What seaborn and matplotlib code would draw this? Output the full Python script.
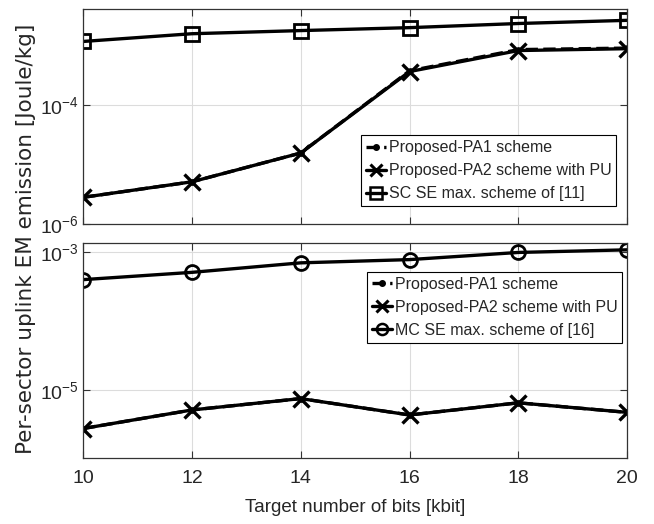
import numpy as np
import pandas as pd
import matplotlib
matplotlib.use("Agg")
import matplotlib.pyplot as plt
import seaborn as sns
from matplotlib.ticker import FixedLocator, LogFormatterMathtext, NullLocator
from matplotlib.lines import Line2D

# ---- data ----
bits = [10, 12, 14, 16, 18, 20]
top_pa1 = [2.8e-6, 5.1e-6, 1.55e-5, 3.7e-4, 8.4e-4, 8.9e-4]
top_pa2 = [2.8e-6, 5.1e-6, 1.55e-5, 3.6e-4, 8.1e-4, 8.7e-4]
top_sc = [1.15e-3, 1.55e-3, 1.75e-3, 1.96e-3, 2.3e-3, 2.6e-3]
bot_pa1 = [2.8e-6, 5.2e-6, 7.6e-6, 4.4e-6, 6.6e-6, 4.8e-6]
bot_pa2 = [2.8e-6, 5.2e-6, 7.6e-6, 4.4e-6, 6.6e-6, 4.8e-6]
bot_mc = [4.0e-4, 5.1e-4, 7.0e-4, 7.8e-4, 9.9e-4, 1.08e-3]

lab_pa1 = "Proposed-PA1 scheme"
lab_pa2 = "Proposed-PA2 scheme with PU"
lab_sc = "SC SE max. scheme of [11]"
lab_mc = "MC SE max. scheme of [16]"

sns.set_style("ticks")
plt.rcParams["font.family"] = ["Liberation Sans", "DejaVu Sans"]
plt.rcParams["mathtext.fontset"] = "custom"
plt.rcParams["mathtext.rm"] = "Liberation Sans"
plt.rcParams["mathtext.it"] = "Liberation Sans"
plt.rcParams["mathtext.bf"] = "Liberation Sans"

fig = plt.figure(figsize=(6.54, 5.24), dpi=100)
ax1 = fig.add_axes([0.127, 0.5725, 0.832, 0.410])
ax2 = fig.add_axes([0.127, 0.126, 0.832, 0.410])

lw = 2.4
def draw(ax, pa1, pa2, ref, ref_marker):
    df = pd.DataFrame({"bits": bits, "pa1": pa1, "pa2": pa2, "ref": ref})
    sns.lineplot(data=df, x="bits", y="pa1", ax=ax, color="black", lw=lw,
                 linestyle="--", marker="o", markersize=4, markeredgecolor="black")
    sns.lineplot(data=df, x="bits", y="pa2", ax=ax, color="black", lw=lw,
                 marker="x", markersize=11, markeredgewidth=2.4, markeredgecolor="black")
    sns.lineplot(data=df, x="bits", y="ref", ax=ax, color="black", lw=lw,
                 marker=ref_marker, markersize=10, markerfacecolor="none",
                 markeredgewidth=2.0, markeredgecolor="black")
    ax.set_yscale("log")
    ax.set_xlim(10, 20)
    ax.set_xticks(bits)
    ax.grid(True, color="#dcdcdc", lw=0.8)
    ax.set_axisbelow(True)
    ax.tick_params(direction="in", top=True, right=True, labelsize=14, length=5,
                   color="#333333", labelcolor="#262626")
    ax.tick_params(axis="x", pad=9)
    ax.tick_params(axis="y", pad=3)
    ax.yaxis.set_minor_locator(NullLocator())
    ax.yaxis.set_major_formatter(LogFormatterMathtext())
    for s in ax.spines.values():
        s.set_color("#333333")
        s.set_linewidth(0.9)
    ax.set_xlabel("")
    ax.set_ylabel("")
    handles = [
        Line2D([], [], color="black", lw=lw, linestyle="--", marker="o", markersize=4),
        Line2D([], [], color="black", lw=lw, marker="x", markersize=9, markeredgewidth=2.2),
        Line2D([], [], color="black", lw=lw, marker=ref_marker, markersize=8,
               markerfacecolor="none", markeredgewidth=1.8),
    ]
    return handles

legkw = dict(fontsize=11.5, handlelength=1.3, handletextpad=0.15, borderpad=0.3,
             labelspacing=0.5, fancybox=False, edgecolor="black", framealpha=1,
             borderaxespad=0)

h1 = draw(ax1, top_pa1, top_pa2, top_sc, "s")
ax1.set_ylim(1e-6, 4e-3)
ax1.yaxis.set_major_locator(FixedLocator([1e-6, 1e-4]))
ax1.tick_params(labelbottom=False)
leg1 = ax1.legend(h1, [lab_pa1, lab_pa2, lab_sc], loc="lower right",
                  bbox_to_anchor=(0.980, 0.084), **legkw)
leg1.get_frame().set_linewidth(0.8)

h2 = draw(ax2, bot_pa1, bot_pa2, bot_mc, "o")
ax2.set_ylim(1.05e-6, 1.35e-3)
ax2.yaxis.set_major_locator(FixedLocator([1e-5, 1e-3]))
leg2 = ax2.legend(h2, [lab_pa1, lab_pa2, lab_mc], loc="upper right",
                  bbox_to_anchor=(0.991, 0.865), **legkw)
leg2.get_frame().set_linewidth(0.8)
ax2.set_xlabel("Target number of bits [kbit]", fontsize=13.5, labelpad=8,
               color="#262626")

fig.text(0.039, 0.544, "Per-sector uplink EM emission [Joule/kg]", rotation=90,
         ha="center", va="center", fontsize=15.5, family=["DejaVu Sans"],
         color="#262626")

fig.savefig("out.png", dpi=100)
